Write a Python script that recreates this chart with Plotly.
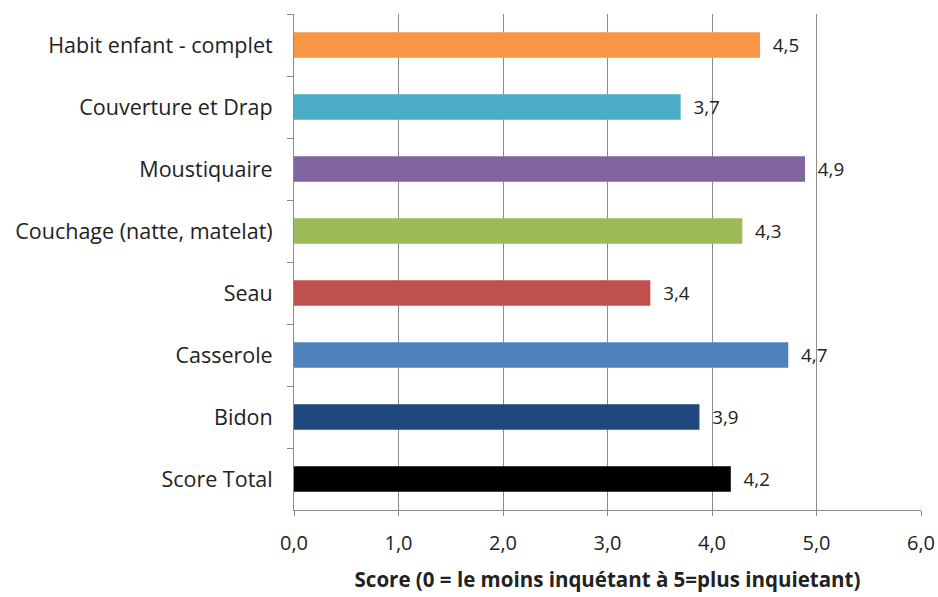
import plotly.graph_objects as go

categories = ["Habit enfant - complet", "Couverture et Drap", "Moustiquaire",
              "Couchage (natte, matelat)", "Seau", "Casserole", "Bidon", "Score Total"]
values = [4.46, 3.70, 4.89, 4.29, 3.41, 4.73, 3.88, 4.18]
colors = ["#F79646", "#4BACC6", "#8064A2", "#9BBB59", "#C0504D", "#4F81BD", "#1F497D", "#000000"]
x_ticks = [0, 1, 2, 3, 4, 5, 6]

FONT = "Open Sans"
FS = 20

fig = go.Figure(go.Bar(
    y=categories, x=values, orientation="h",
    marker=dict(color=colors, line=dict(width=0)),
    width=0.41,
    texttemplate="  %{x:.1f}", textposition="outside", cliponaxis=False,
    textfont=dict(family=FONT, size=FS, color="#222222"),
))

fig.update_layout(
    width=938, height=597,
    margin=dict(l=294, r=17, t=14, b=87, autoexpand=False),
    paper_bgcolor="white", plot_bgcolor="white",
    separators=", ",
    showlegend=False,
    font=dict(family=FONT, size=FS, color="#222222"),
)
fig.update_xaxes(
    automargin=False,
    range=[0, 6], tickvals=x_ticks, tickformat=".1f",
    showgrid=True, gridcolor="#8C8C8C", gridwidth=1,
    showline=True, linecolor="#8C8C8C", linewidth=1,
    ticks="outside", ticklen=5, tickcolor="#8C8C8C",
    ticklabelstandoff=10,
    tickfont=dict(family=FONT, size=FS, color="#222222"),
    zeroline=False,
    title=dict(text="<b>Score (0 = le moins inquétant à 5=plus inquietant)</b>",
               font=dict(family=FONT, size=20.5, color="#222222"), standoff=17),
)
fig.update_yaxes(
    automargin=False,
    autorange="reversed", tickson="boundaries",
    showline=True, linecolor="#8C8C8C", linewidth=1,
    ticks="outside", ticklen=6, tickcolor="#8C8C8C",
    ticklabelstandoff=16,
    tickfont=dict(family=FONT, size=21.5, color="#222222"),
    showgrid=False,
)

fig.write_html(
    "out.html",
    config={"displayModeBar": False},
    post_script="document.body.style.margin='0';document.body.style.overflow='hidden';",
)
